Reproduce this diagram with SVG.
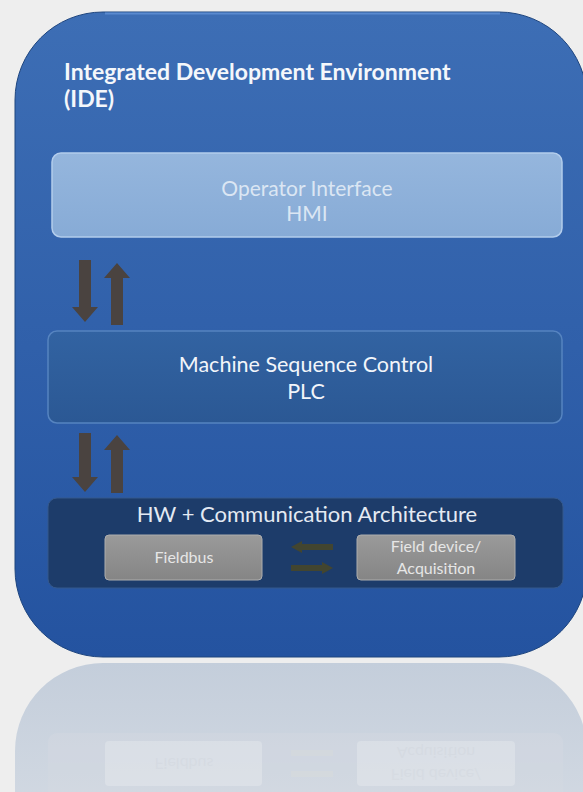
<svg xmlns="http://www.w3.org/2000/svg" width="583" height="792" viewBox="0 0 583 792">
  <defs>
    <linearGradient id="gMain" x1="0" y1="0" x2="0" y2="1">
      <stop offset="0" stop-color="#3d6eb5"/>
      <stop offset="1" stop-color="#2453a0"/>
    </linearGradient>
    <linearGradient id="gRefl" x1="0" y1="0" x2="0" y2="1">
      <stop offset="0" stop-color="#c4cedb"/>
      <stop offset="1" stop-color="#e9ebee"/>
    </linearGradient>
    <linearGradient id="gHmi" x1="0" y1="0" x2="0" y2="1">
      <stop offset="0" stop-color="#95b6dd"/>
      <stop offset="1" stop-color="#87abd6"/>
    </linearGradient>
    <linearGradient id="gPlc" x1="0" y1="0" x2="0" y2="1">
      <stop offset="0" stop-color="#3263a2"/>
      <stop offset="1" stop-color="#2b5894"/>
    </linearGradient>
    <linearGradient id="gGray" x1="0" y1="0" x2="0" y2="1">
      <stop offset="0" stop-color="#9a9a9a"/>
      <stop offset="1" stop-color="#858585"/>
    </linearGradient>
    <clipPath id="clipRefl">
      <rect x="15" y="663" width="572" height="400" rx="88"/>
    </clipPath>
  </defs>
  <style>
    text { font-family: Lato, "Liberation Sans", sans-serif; text-anchor: middle; }
    .title { font-weight: bold; font-size: 23px; fill: #f4f7fb; text-anchor: start; }
    .hmi { font-size: 21px; fill: #dbe6f3; }
    .plc { font-size: 21.5px; fill: #f2f5fa; }
    .hw { font-size: 22px; fill: #e4eaf3; }
    .small { font-size: 16px; fill: #e6e6e6; }
    .arrow { fill: #4a4340; }
    .harrow { fill: #424530; }
  </style>

  <rect x="0" y="0" width="583" height="792" fill="#eeeeee"/>

  <!-- main container -->
  <g id="ide">
    <rect x="15" y="12" width="572" height="645" rx="88" fill="url(#gMain)" stroke="#1f467f" stroke-width="1"/>
    <line x1="105" y1="13.5" x2="500" y2="13.5" stroke="#5a8ad0" stroke-width="2"/>
    <text class="title" x="64" y="80">Integrated Development Environment</text>
    <text class="title" x="64" y="107">(IDE)</text>
  </g>

  <g id="hmi">
    <rect x="52" y="153" width="510" height="84" rx="9" fill="url(#gHmi)" stroke="#b3cdec" stroke-width="1.5"/>
    <text class="hmi" x="307" y="196">Operator Interface</text>
    <text class="hmi" x="307" y="221">HMI</text>
  </g>

  <g id="plc">
    <rect x="48" y="331" width="514" height="92" rx="9" fill="url(#gPlc)" stroke="#5684c0" stroke-width="1.5"/>
    <text class="plc" x="306" y="372">Machine Sequence Control</text>
    <text class="plc" x="306" y="399">PLC</text>
  </g>

  <g id="hw">
    <rect x="48" y="498" width="515" height="90" rx="9" fill="#1d3c6a" stroke="#35598c" stroke-width="1"/>
    <text class="hw" x="307" y="522">HW + Communication Architecture</text>
  </g>

  <g id="fieldbus">
    <rect x="105" y="535" width="157" height="45" rx="4" fill="url(#gGray)" stroke="#adadad" stroke-width="1"/>
    <text class="small" x="184" y="563">Fieldbus</text>
  </g>

  <g id="fielddevice">
    <rect x="357" y="535" width="158" height="45" rx="4" fill="url(#gGray)" stroke="#adadad" stroke-width="1"/>
    <text class="small" x="436" y="552">Field device/</text>
    <text class="small" x="436" y="574">Acquisition</text>
  </g>

  <g id="connectors">
    <!-- HMI <-> PLC -->
    <polygon class="arrow" points="79,260 91,260 91,307 98,307 85,322 72,307 79,307"/>
    <polygon class="arrow" points="117,263 130,278 123,278 123,325 111,325 111,278 104,278"/>
    <!-- PLC <-> HW -->
    <polygon class="arrow" points="79,433 91,433 91,477 98,477 85,492 72,477 79,477"/>
    <polygon class="arrow" points="117,435 130,450 123,450 123,493 111,493 111,450 104,450"/>
    <!-- Fieldbus <-> Field device -->
    <polygon class="harrow" points="291,547 302,541 302,544 333,544 333,550 302,550 302,553"/>
    <polygon class="harrow" points="291,565 322,565 322,562 333,568 322,574 322,571 291,571"/>
  </g>

  <!-- reflection -->
  <g id="reflection">
    <rect x="15" y="663" width="572" height="400" rx="88" fill="url(#gRefl)"/>
    <g clip-path="url(#clipRefl)" opacity="0.35">
      <g transform="translate(0,1321) scale(1,-1)">
        <rect x="48" y="498" width="515" height="90" rx="9" fill="#d6dbe2"/>
        <rect x="105" y="535" width="157" height="45" rx="4" fill="#f3f3f3"/>
        <rect x="357" y="535" width="158" height="45" rx="4" fill="#f3f3f3"/>
        <rect x="291" y="544" width="42" height="6" fill="#e0e0da"/>
        <rect x="291" y="565" width="42" height="6" fill="#e0e0da"/>
        <text class="small" x="184" y="563" fill="#ffffff">Fieldbus</text>
        <text class="small" x="436" y="552" fill="#ffffff">Field device/</text>
        <text class="small" x="436" y="574" fill="#ffffff">Acquisition</text>
      </g>
    </g>
  </g>
</svg>
